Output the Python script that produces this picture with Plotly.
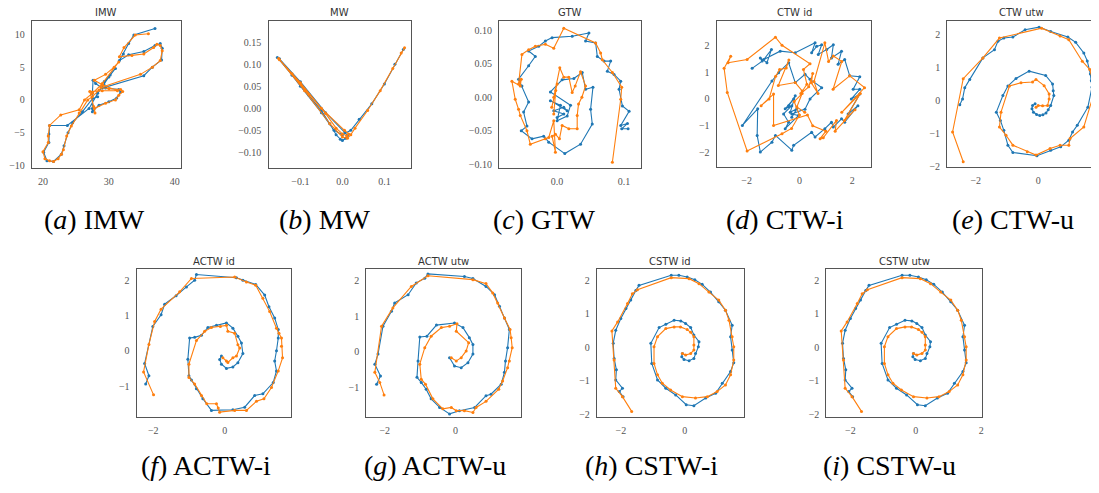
import plotly.graph_objects as go

# ---------------- data ----------------
imw_blue = [(37.0,10.9),(33.8,9.9),(33.0,8.6),(32.2,7.0),(31.6,6.0),(33.0,6.9),(35.3,7.4),(37.0,8.3),(37.8,8.6),(38.1,7.9),(38.0,6.1),(36.6,5.0),(35.3,3.7),(29.0,1.8),(28.0,2.5),(27.6,3.0),(27.5,1.0),(27.5,-1.3),(27.5,-1.8),(28.5,-0.8),(30.0,-0.3),(31.2,0.3),(31.8,1.2),(31.5,1.6),(29.5,1.8),(29.3,2.8),(30.2,3.8),(31.0,4.8),(30.0,3.5),(28.3,1.0),(27.0,-1.3),(23.7,-3.9),(21.0,-3.9),(20.9,-5.2),(20.9,-6.5),(20.1,-8.0),(20.6,-9.3),(21.6,-9.4),(22.8,-8.3),(23.2,-7.0),(23.8,-5.0),(24.5,-3.5),(26.0,-1.8),(27.5,0.2),(28.3,0.5)]
imw_orange = [(36.0,10.1),(34.0,9.9),(32.3,8.0),(31.6,6.6),(33.5,6.8),(35.3,7.0),(36.8,8.0),(37.3,8.5),(37.8,8.3),(38.1,7.5),(37.8,6.0),(36.6,5.0),(34.8,3.9),(28.8,1.9),(30.0,1.7),(31.8,1.6),(32.1,1.3),(31.5,0.7),(31.0,0.0),(29.5,-0.5),(27.8,-1.3),(27.9,-2.0),(27.7,-1.0),(27.1,1.3),(29.0,1.4),(31.3,1.4),(29.0,2.3),(27.8,3.0),(29.5,3.9),(30.8,5.0),(31.5,5.8),(29.0,2.5),(27.5,1.0),(26.3,0.0),(25.5,-1.5),(22.7,-2.3),(21.0,-3.9),(20.8,-5.5),(20.8,-6.5),(20.0,-7.9),(20.3,-9.0),(21.0,-9.3),(21.6,-9.4),(22.3,-9.0),(22.8,-8.3),(23.1,-7.6),(23.6,-5.5),(24.3,-4.0),(25.5,-2.0),(26.8,0.0),(27.5,0.5),(28.5,1.5)]

mw_blue = [(-0.155,0.115),(-0.12,0.075),(-0.08,0.03),(-0.05,-0.005),(-0.03,-0.035),(-0.015,-0.06),(-0.005,-0.07),(0.0,-0.073),(0.008,-0.068),(0.012,-0.062),(0.006,-0.055),(-0.04,-0.01),(-0.1,0.06),(-0.15,0.112),(-0.1,0.05),(-0.05,-0.01),(-0.02,-0.05),(0.0,-0.06),(0.02,-0.05),(0.04,-0.025),(0.07,0.01),(0.1,0.055),(0.125,0.1),(0.145,0.133)]
mw_orange = [(-0.152,0.113),(-0.12,0.078),(-0.08,0.032),(-0.04,-0.012),(-0.015,-0.045),(0.0,-0.058),(0.01,-0.062),(0.015,-0.058),(0.005,-0.05),(-0.05,0.0),(-0.1,0.058),(-0.15,0.11),(-0.09,0.04),(-0.03,-0.035),(0.0,-0.065),(0.012,-0.068),(0.02,-0.06),(0.03,-0.045),(0.06,-0.005),(0.09,0.04),(0.12,0.09),(0.14,0.125),(0.148,0.137)]

gtw_blue = [(0.0,-0.03),(0.01,-0.025),(-0.005,-0.02),(0.01,-0.015),(0.015,-0.02),(-0.01,-0.005),(0.005,-0.012),(0.0,-0.035),(0.015,-0.028),(0.02,-0.012),(-0.01,0.008),(0.0075,0.026),(0.025,0.028),(0.0375,0.037),(0.0425,0.012),(0.0535,0.015),(0.05,-0.018),(0.0525,-0.04),(0.035,-0.07),(0.0115,-0.084),(-0.0125,-0.067),(-0.02,-0.058),(-0.0375,-0.062),(-0.0535,-0.05),(-0.045,-0.043),(-0.05,-0.022),(-0.0425,-0.007),(-0.0525,0.017),(-0.0575,0.027),(-0.0425,0.047),(-0.0325,0.061),(-0.0425,0.069),(-0.0275,0.076),(-0.0175,0.084),(-0.0075,0.089),(0.0225,0.091),(0.0475,0.096),(0.0425,0.084),(0.0575,0.081),(0.06,0.061),(0.07,0.054),(0.08,0.054),(0.075,0.039),(0.085,0.034),(0.095,0.024),(0.0925,0.012),(0.0975,-0.013),(0.1075,-0.021),(0.095,-0.042),(0.105,-0.039),(0.0965,-0.047),(0.106,-0.047)]
gtw_orange = [(-0.005,-0.025),(-0.002,0.01),(-0.008,-0.015),(0.0,0.02),(-0.005,0.0),(0.004,0.044),(0.01,0.03),(0.0175,0.03),(0.0225,0.007),(0.027,0.017),(0.035,0.038),(0.0425,0.017),(0.037,0.0),(0.032,-0.01),(0.03,-0.027),(0.03,-0.047),(0.0175,-0.047),(0.0075,-0.042),(0.0035,-0.062),(-0.0025,-0.055),(-0.0075,-0.058),(-0.0025,-0.082),(-0.005,-0.035),(-0.0125,-0.06),(-0.0175,-0.062),(-0.04,-0.07),(-0.045,-0.05),(-0.055,-0.027),(-0.0575,-0.018),(-0.0625,-0.003),(-0.0675,0.024),(-0.055,0.017),(-0.0535,0.027),(-0.0575,0.02),(-0.0525,0.064),(-0.0425,0.071),(-0.0325,0.076),(-0.0175,0.079),(-0.005,0.073),(0.01,0.103),(0.0575,0.081),(0.065,0.066),(0.0675,0.056),(0.0825,0.037),(0.0965,0.015),(0.095,-0.003),(0.0825,-0.097)]

ctwi_blue = [(-1.79,1.14),(-1.41,1.41),(-1.48,1.53),(-1.23,1.35),(-1.06,1.84),(-1.35,1.47),(-0.73,1.78),(-0.16,1.72),(0.59,2.09),(0.46,1.72),(0.65,1.96),(0.84,2.02),(0.71,1.66),(1.03,1.84),(1.28,2.02),(1.21,1.53),(1.59,1.78),(1.46,1.29),(1.71,1.47),(1.9,0.86),(2.28,0.83),(2.03,0.36),(2.28,0.36),(1.96,0.0),(2.28,0.18),(1.84,-0.56),(2.21,-0.25),(1.71,-0.87),(1.59,-0.74),(1.28,-1.05),(1.21,-0.87),(0.96,-1.11),(0.59,-1.42),(0.46,-1.24),(-0.22,-1.73),(-0.29,-1.91),(-0.91,-1.36),(-1.04,-1.61),(-1.48,-1.98),(-1.6,-1.36),(-1.58,-0.37),(-2.16,-0.99),(-1.04,0.67),(-0.79,0.98),(-0.41,1.35),(-0.16,0.61),(0.21,0.92),(0.4,0.73),(0.84,0.42),(0.4,0.0),(0.21,-0.38),(-0.29,-0.56),(-0.04,-0.62),(-0.54,-1.11),(-0.41,-0.87),(-0.6,-0.56),(-0.29,-0.25),(-0.54,-0.37),(-0.22,0.0),(-0.41,-0.25),(-0.16,0.12),(-0.35,-0.5),(-0.1,-0.37),(-0.29,-0.68)]
ctwi_orange = [(0.2,-0.5),(-0.1,-0.3),(0.1,0.2),(-0.2,-0.1),(0.0,-0.6),(-0.3,-1.1),(-0.66,-1.3),(-1.98,-1.94),(-2.73,0.24),(-2.85,1.14),(-2.6,1.59),(-2.7,1.35),(-1.98,1.47),(-0.91,2.3),(-0.66,2.0),(0.4,1.31),(0.15,1.1),(0.28,0.55),(0.05,0.2),(0.35,0.45),(0.5,0.95),(0.45,0.6),(0.7,0.2),(0.55,0.65),(0.96,2.09),(1.1,1.4),(1.28,1.6),(1.6,1.4),(1.27,0.36),(1.9,0.86),(2.46,0.42),(1.6,-0.5),(2.3,0.2),(1.7,-0.8),(2.1,-0.4),(1.35,-1.2),(1.4,-0.8),(0.9,-1.45),(0.78,-1.48),(1.0,-1.2),(0.5,-1.0),(0.3,-0.6),(-0.98,-0.99),(-0.98,0.18),(-1.45,-0.25),(-1.15,0.0),(-0.9,0.85),(-0.75,1.1),(-0.5,1.15),(-0.4,1.45),(-0.8,0.5),(-0.16,0.61),(0.1,0.3)]

ctwu_blue = [(-0.1,-0.1),(-0.18,-0.15),(-0.2,-0.25),(-0.15,-0.35),(-0.05,-0.42),(0.05,-0.45),(0.15,-0.43),(0.25,-0.38),(0.32,-0.28),(0.4,-0.15),(0.5,0.15),(0.48,0.3),(0.46,0.5),(0.24,0.76),(-0.29,0.89),(-0.71,0.67),(-0.97,0.44),(-1.13,0.15),(-1.34,-0.35),(-1.21,-0.6),(-1.1,-0.9),(-0.97,-1.35),(-0.81,-1.57),(-0.04,-1.67),(0.4,-1.5),(0.72,-1.4),(0.98,-1.2),(1.1,-0.95),(1.25,-0.75),(1.59,-0.2),(1.72,0.4),(1.7,0.6),(1.67,0.8),(1.57,1.2),(1.46,1.44),(1.2,1.76),(0.95,1.92),(0.4,2.09),(0.03,2.22),(-0.42,2.14),(-0.81,1.92),(-1.1,1.89),(-1.29,1.79),(-1.4,1.54),(-1.77,1.29),(-2.19,0.64),(-2.35,0.39),(-2.42,0.05),(-2.51,-0.13)]
ctwu_orange = [(-0.07,-0.2),(0.0,-0.15),(0.14,-0.16),(0.3,-0.15),(0.35,0.05),(0.35,0.2),(0.19,0.45),(-0.07,0.64),(-0.18,0.56),(-0.55,0.54),(-0.92,0.44),(-1.19,-0.35),(-1.24,-0.8),(-1.03,-1.05),(-0.81,-1.35),(-0.35,-1.55),(-0.07,-1.65),(0.38,-1.45),(0.7,-1.35),(0.98,-1.35),(1.02,-1.15),(1.46,-0.8),(1.76,0.14),(1.75,0.6),(1.65,0.94),(1.41,1.19),(0.98,1.84),(0.7,1.95),(0.11,2.19),(-1.24,1.89),(-1.77,1.29),(-2.4,0.66),(-2.74,-0.95),(-2.4,-1.85)]

actwi_blue = [(-0.09,-0.15),(-0.14,-0.25),(-0.09,-0.38),(0.05,-0.5),(0.23,-0.46),(0.37,-0.34),(0.51,-0.08),(0.47,0.22),(0.37,0.41),(0.23,0.64),(0.05,0.79),(-0.23,0.72),(-0.47,0.66),(-0.65,0.44),(-0.84,0.38),(-0.98,0.36),(-1.03,-0.24),(-1.0,-0.71),(-0.93,-0.83),(-0.79,-1.08),(-0.61,-1.36),(-0.37,-1.69),(0.23,-1.67),(0.56,-1.6),(0.84,-1.27),(1.07,-1.22),(1.36,-0.9),(1.45,-0.57),(1.4,-0.29),(1.45,0.0),(1.5,0.36),(1.5,0.6),(1.4,0.93),(1.24,1.25),(1.12,1.58),(0.87,1.88),(0.51,2.0),(0.33,2.07),(-0.79,2.16),(-0.84,2.0),(-1.07,1.81),(-1.36,1.56),(-1.68,1.32),(-1.78,1.02),(-2.01,0.69),(-2.24,-0.36),(-2.12,-0.71),(-2.21,-0.94)]
actwi_orange = [(0.05,-0.29),(-0.05,-0.2),(0.09,-0.33),(0.23,-0.2),(0.33,-0.15),(0.42,0.08),(0.37,0.17),(0.28,0.5),(0.09,0.55),(0.05,0.72),(-0.12,0.69),(-0.37,0.66),(-0.56,0.55),(-0.79,0.29),(-1.0,-0.38),(-1.0,-0.76),(-0.84,-0.94),(-0.65,-1.27),(-0.5,-1.5),(-0.23,-1.5),(-0.18,-1.62),(-0.14,-1.74),(0.28,-1.69),(0.61,-1.69),(0.89,-1.43),(1.1,-1.36),(1.31,-1.04),(1.5,-0.57),(1.62,-0.2),(1.59,0.13),(1.59,0.36),(1.52,0.5),(1.45,0.64),(1.26,1.11),(1.07,1.49),(0.87,1.86),(0.61,1.95),(0.28,2.09),(-0.93,2.05),(-1.26,1.67),(-1.78,1.18),(-1.96,0.83),(-2.12,0.18),(-2.27,-0.6),(-1.99,-1.25)]

actwu_blue = [(-0.17,-0.16),(-0.03,-0.39),(0.16,-0.44),(0.35,-0.3),(0.49,-0.06),(0.49,0.21),(0.39,0.4),(0.21,0.68),(-0.03,0.81),(-0.54,0.75),(-0.81,0.44),(-1.01,0.42),(-1.06,-0.25),(-1.09,-0.71),(-0.97,-0.85),(-0.83,-1.04),(-0.69,-1.31),(-0.45,-1.55),(-0.17,-1.73),(0.11,-1.64),(0.54,-1.55),(0.86,-1.22),(1.0,-1.18),(1.29,-0.9),(1.38,-0.57),(1.41,-0.25),(1.47,0.12),(1.52,0.63),(1.38,0.95),(1.24,1.28),(1.1,1.6),(0.86,1.83),(0.49,2.05),(0.25,2.11),(-0.78,2.18),(-0.87,2.06),(-1.11,1.93),(-1.34,1.6),(-1.72,1.37),(-1.81,1.14),(-2.05,0.72),(-2.19,-0.06),(-2.28,-0.34),(-2.12,-0.67),(-2.23,-0.9)]
actwu_orange = [(-0.12,-0.16),(0.02,-0.25),(0.16,-0.16),(0.3,0.03),(0.37,0.26),(0.02,0.58),(0.04,0.79),(-0.17,0.72),(-0.4,0.68),(-0.69,0.44),(-0.87,0.12),(-1.01,-0.34),(-0.97,-0.76),(-0.85,-0.9),(-0.64,-1.31),(-0.36,-1.59),(-0.12,-1.55),(0.02,-1.64),(0.25,-1.64),(0.49,-1.69),(0.58,-1.55),(0.86,-1.38),(1.22,-1.04),(1.33,-0.81),(1.47,-0.44),(1.52,-0.25),(1.6,0.12),(1.57,0.4),(1.54,0.63),(1.38,0.95),(1.19,1.37),(1.05,1.65),(0.86,1.91),(0.49,2.02),(-0.78,2.13),(-1.25,1.83),(-1.77,1.23),(-2.09,0.72),(-2.28,-0.57),(-2.14,-0.85),(-2.02,-1.2)]

cstwi_blue = [(-0.07,-0.18),(-0.09,-0.28),(-0.02,-0.36),(0.14,-0.4),(0.29,-0.33),(0.34,-0.18),(0.43,0.02),(0.45,0.17),(0.29,0.37),(0.19,0.59),(0.03,0.71),(-0.12,0.79),(-0.33,0.81),(-0.59,0.69),(-0.8,0.59),(-1.06,0.12),(-1.03,-0.48),(-0.85,-0.97),(-0.59,-1.22),(-0.28,-1.42),(0.05,-1.71),(0.29,-1.74),(0.66,-1.51),(0.97,-1.37),(1.18,-1.07),(1.44,-0.72),(1.54,-0.46),(1.49,-0.08),(1.44,0.32),(1.49,0.66),(1.28,1.11),(1.07,1.36),(0.81,1.65),(0.55,1.88),(0.32,2.02),(0.08,2.1),(-0.18,2.15),(-0.42,2.15),(-1.43,1.85),(-1.53,1.7),(-1.69,1.41),(-1.84,1.16),(-2.0,0.86),(-2.16,0.51),(-2.24,0.12),(-2.21,-0.33),(-2.14,-0.67),(-2.16,-0.97),(-1.95,-1.22),(-2.05,-1.32),(-1.93,-1.47)]
cstwi_orange = [(-0.07,-0.18),(0.03,-0.23),(0.19,-0.18),(0.29,-0.08),(0.29,0.07),(0.29,0.32),(0.19,0.45),(0.08,0.53),(-0.13,0.61),(-0.33,0.61),(-0.59,0.56),(-0.85,0.32),(-0.96,0.02),(-0.96,-0.48),(-0.85,-0.82),(-0.7,-1.07),(-0.44,-1.27),(-0.07,-1.47),(0.34,-1.51),(0.71,-1.47),(1.02,-1.32),(1.28,-1.12),(1.44,-0.82),(1.54,-0.38),(1.54,0.02),(1.49,0.32),(1.39,0.81),(1.28,1.11),(1.07,1.41),(0.76,1.65),(0.45,1.9),(0.14,2.05),(-0.42,2.08),(-1.48,1.72),(-1.64,1.6),(-1.79,1.31),(-2.1,0.76),(-2.28,0.49),(-2.21,-0.38),(-2.16,-1.22),(-1.95,-1.47),(-1.66,-1.91)]

# the CSTW utw panel shows the same curves as CSTW id
cstwu_blue = list(cstwi_blue)
cstwu_orange = list(cstwi_orange)

panel_titles = ["IMW", "MW", "GTW", "CTW id", "CTW utw", "ACTW id", "ACTW utw", "CSTW id", "CSTW utw"]
captions = ["(<i>a</i>) IMW", "(<i>b</i>) MW", "(<i>c</i>) GTW", "(<i>d</i>) CTW-i", "(<i>e</i>) CTW-u",
            "(<i>f</i>) ACTW-i", "(<i>g</i>) ACTW-u", "(<i>h</i>) CSTW-i", "(<i>i</i>) CSTW-u"]
series = [(imw_blue, imw_orange), (mw_blue, mw_orange), (gtw_blue, gtw_orange),
          (ctwi_blue, ctwi_orange), (ctwu_blue, ctwu_orange), (actwi_blue, actwi_orange),
          (actwu_blue, actwu_orange), (cstwi_blue, cstwi_orange), (cstwu_blue, cstwu_orange)]
x_ticks = [[20, 30, 40], [-0.1, 0.0, 0.1], [0.0, 0.1], [-2, 0, 2], [-2, 0], [-2, 0], [-2, 0], [-2, 0], [-2, 0, 2]]
y_ticks = [[-10, -5, 0, 5, 10], [-0.10, -0.05, 0.0, 0.05, 0.10, 0.15], [-0.10, -0.05, 0.0, 0.05, 0.10],
           [-2, -1, 0, 1, 2], [-2, -1, 0, 1, 2], [-1, 0, 1, 2], [-1, 0, 1, 2], [-2, -1, 0, 1, 2], [-2, -1, 0, 1, 2]]
x_fmt = ["d", ".1f", ".1f", "d", "d", "d", "d", "d", "d"]
y_fmt = ["d", ".2f", ".2f", "d", "d", "d", "d", "d", "d"]

# ---------------- layout geometry (page pixels of the reference) ----------------
PAGE_OFF = 8                       # default body margin of the html page
W, H = 1099 - PAGE_OFF, 493 - PAGE_OFF
frames = [(32, 181, 21, 170), (269, 412, 21, 170), (500, 642, 21, 170), (718, 873, 21, 169), (949, 1098, 21, 169),
          (137, 292, 272, 421), (367, 522, 272, 421), (598, 745, 272, 421), (828, 984, 272, 421)]
x_ranges = [(18.33, 40.9), (-0.176, 0.164), (-0.0866, 0.125), (-3.13, 2.72), (-2.91, 1.85),
            (-2.46, 1.87), (-2.52, 1.85), (-2.75, 1.85), (-2.73, 2.03)]
y_ranges = [(-10.45, 12.07), (-0.136, 0.198), (-0.106, 0.114), (-2.55, 2.91), (-2.02, 2.41),
            (-1.87, 2.31), (-1.81, 2.31), (-2.07, 2.33), (-2.07, 2.33)]
title_y = [13, 13, 13, 13, 13, 264, 264, 264, 264]
caption_pos = [(95, 222), (326, 222), (545, 222), (786, 222), (1015, 222),
               (206, 470), (436, 470), (653, 470), (891, 470)]


def fx(px):
    return (px - PAGE_OFF) / W


def fy(py):
    return 1 - (py - PAGE_OFF) / H


BLUE, ORANGE = "#1f77b4", "#ff7f0e"
fig = go.Figure()
layout = dict(width=W, height=H, margin=dict(l=0, r=0, t=0, b=0), paper_bgcolor="white",
              plot_bgcolor="white", showlegend=False)
annotations = []
tickfont = dict(family="Liberation Serif, DejaVu Serif, serif", size=10, color="#555555")

for i in range(9):
    n = "" if i == 0 else str(i + 1)
    xa, ya = "x" + n, "y" + n
    for pts, col in zip(series[i], (BLUE, ORANGE)):
        fig.add_trace(go.Scatter(x=[p[0] for p in pts], y=[p[1] for p in pts], mode="lines+markers",
                                 line=dict(color=col, width=1.1), marker=dict(color=col, size=3),
                                 xaxis=xa, yaxis=ya, hoverinfo="skip"))
    l, r, t, b = frames[i]
    common = dict(showline=True, mirror=True, linecolor="#555555", linewidth=1.3, showgrid=False,
                  zeroline=False, ticks="outside", ticklen=4, tickcolor="rgba(0,0,0,0)",
                  tickfont=tickfont, fixedrange=True)
    layout["xaxis" + n] = dict(domain=[fx(l), min(fx(r), 1.0)], range=list(x_ranges[i]), anchor=ya,
                               tickvals=x_ticks[i], tickformat=x_fmt[i], **common)
    layout["yaxis" + n] = dict(domain=[fy(b), fy(t)], range=list(y_ranges[i]), anchor=xa,
                               tickvals=y_ticks[i], tickformat=y_fmt[i], **common)
    annotations.append(dict(text=panel_titles[i], x=fx((l + r) / 2), y=fy(title_y[i]), xref="paper",
                            yref="paper", xanchor="center", yanchor="middle", showarrow=False,
                            font=dict(family="DejaVu Sans, sans-serif", size=10, color="#333333")))
    cx, cy = caption_pos[i]
    annotations.append(dict(text=captions[i], x=fx(cx), y=fy(cy), xref="paper", yref="paper",
                            xanchor="center", yanchor="middle", showarrow=False,
                            font=dict(family="Liberation Serif, DejaVu Serif, serif", size=28, color="black")))

layout["annotations"] = annotations
fig.update_layout(**layout)
fig.write_html("out.html")
